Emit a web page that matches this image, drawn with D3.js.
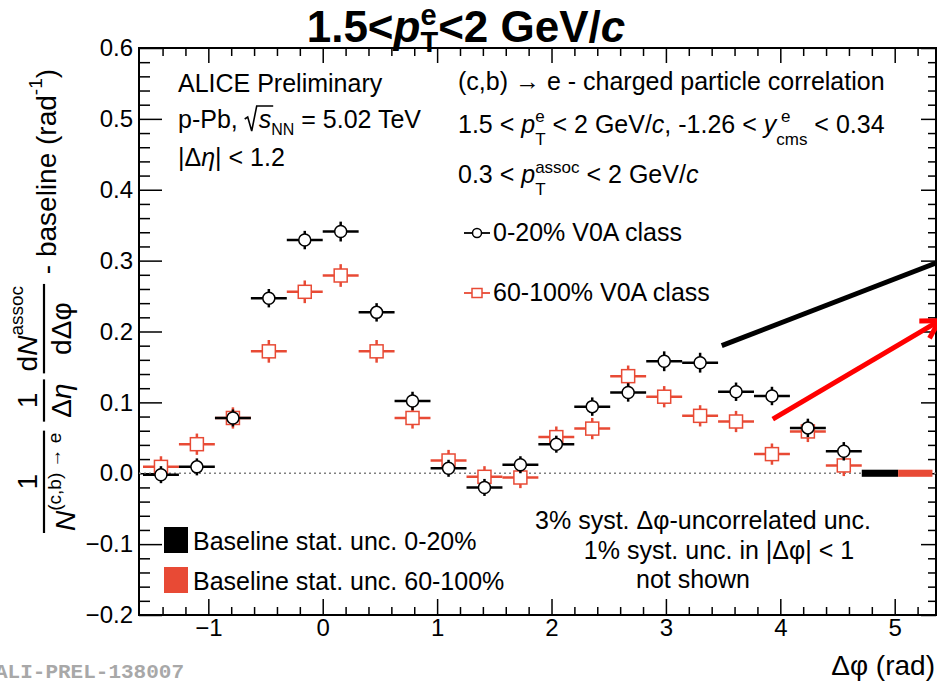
<!DOCTYPE html>
<html>
<head>
<meta charset="utf-8">
<script src="https://cdn.jsdelivr.net/npm/d3@7"></script>
<style>
  body { margin: 0; background: #fff; }
  svg text { font-family: "Liberation Sans", Arial, Helvetica, sans-serif; white-space: pre; }
</style>
</head>
<body>
<svg id="chart" width="937" height="684"></svg>
<script>
// ---- data ----------------------------------------------------------------
// Δφ bin centres (rad) and half bin width
const dphi = [-1.414, -1.100, -0.785, -0.471, -0.157, 0.157, 0.471, 0.785, 1.100, 1.414,
              1.728, 2.042, 2.356, 2.670, 2.985, 3.299, 3.613, 3.927, 4.241, 4.555];
const binHalfWidth = 0.157;

// 0-20% V0A class
const central = [-0.002, 0.009, 0.078, 0.247, 0.329, 0.341, 0.227, 0.102, 0.007, -0.020,
                 0.012, 0.041, 0.094, 0.114, 0.158, 0.156, 0.115, 0.109, 0.064, 0.031];
const centralErr = [0.012, 0.012, 0.012, 0.013, 0.013, 0.014, 0.013, 0.013, 0.012, 0.012,
                    0.012, 0.012, 0.013, 0.013, 0.014, 0.014, 0.013, 0.013, 0.013, 0.013];

// 60-100% V0A class
const peripheral = [0.009, 0.041, 0.078, 0.172, 0.256, 0.279, 0.172, 0.078, 0.018, -0.005,
                    -0.006, 0.051, 0.063, 0.137, 0.108, 0.081, 0.073, 0.027, 0.059, 0.011];
const peripheralErr = [0.015, 0.015, 0.015, 0.016, 0.016, 0.016, 0.016, 0.015, 0.015, 0.015,
                       0.015, 0.015, 0.015, 0.015, 0.015, 0.015, 0.015, 0.015, 0.015, 0.015];

// baseline statistical uncertainty bands
const baselineBands = [
  { cls: "0-20%",   from: 4.712, to: 5.030, half: 0.005 },
  { cls: "60-100%", from: 5.030, to: 5.330, half: 0.005 }
];

// axis ranges and tick labels
const xRange = [-1.606, 5.361];
const yRange = [-0.2, 0.6];
const xMajor = [-1, 0, 1, 2, 3, 4, 5];
const xTickLabels = ["\u22121", "0", "1", "2", "3", "4", "5"];
const yMajor = [-0.2, -0.1, 0.0, 0.1, 0.2, 0.3, 0.4, 0.5, 0.6];
const yTickLabels = ["\u22120.2", "\u22120.1", "0.0", "0.1", "0.2", "0.3", "0.4", "0.5", "0.6"];

// annotation arrows in data coordinates
const arrows = [
  { from: [3.488, 0.180], to: [5.40, 0.299], color: "#000000", head: false },
  { from: [3.934, 0.0763], to: [5.39, 0.2151], color: "#ff0000", head: true }
];

// ---- setup ---------------------------------------------------------------
const RED = "#e84a35";
const svg = d3.select("#chart");
const X0 = 139, X1 = 936, Y0 = 48, Y1 = 615;
const x = d3.scaleLinear().domain(xRange).range([X0, X1]);
const y = d3.scaleLinear().domain(yRange).range([Y1, Y0]);

// rich text: a run of pieces (sub/superscripts, italics), optionally stacked
function rich(parent, x0, y0, pieces, anchor) {
  const g = parent.append("g");
  let cx = 0, lastStart = 0;
  for (const p of pieces) {
    if (p.gap !== undefined) { cx += p.gap; continue; }
    const start = p.stack ? lastStart : cx;
    const t = g.append("text")
      .attr("x", start).attr("y", p.dy || 0)
      .attr("font-size", p.size).attr("fill", p.fill || "#000")
      .text(p.t);
    if (p.it) t.attr("font-style", "italic");
    if (p.bold) t.attr("font-weight", "bold");
    const w = t.node().getComputedTextLength();
    p._x = start; p._w = w;
    lastStart = start;
    cx = Math.max(cx, start + w);
  }
  const shift = anchor === "middle" ? -cx / 2 : anchor === "end" ? -cx : 0;
  g.attr("transform", `translate(${x0 + shift},${y0})`);
  return { g, width: cx, x: x0 + shift };
}

// ---- frame & axes --------------------------------------------------------
const tickStyle = g => {
  g.select(".domain").remove();
  g.selectAll(".tick line").attr("stroke", "#000").attr("stroke-width", 1.5);
  g.selectAll("text").attr("font-size", 24).attr("fill", "#000");
};

const xMinor = d3.range(-16, 54, 2).map(d => d / 10)
  .filter(d => Math.abs(d - Math.round(d)) > 1e-6 && d > xRange[0] + 0.02);
const yMinor = d3.range(-20, 61, 2).map(d => d / 100)
  .filter(d => Math.abs(d * 10 - Math.round(d * 10)) > 1e-6);

// bottom
svg.append("g").attr("transform", `translate(0,${Y1})`)
  .call(d3.axisBottom(x).tickValues(xMinor).tickSize(-8).tickFormat("")).call(tickStyle);
svg.append("g").attr("transform", `translate(0,${Y1})`)
  .call(d3.axisBottom(x).tickValues(xMajor).tickSize(-16).tickPadding(4)
    .tickFormat((d, i) => xTickLabels[i])).call(tickStyle);
// top
svg.append("g").attr("transform", `translate(0,${Y0})`)
  .call(d3.axisTop(x).tickValues(xMinor).tickSize(-8).tickFormat("")).call(tickStyle);
svg.append("g").attr("transform", `translate(0,${Y0})`)
  .call(d3.axisTop(x).tickValues(xMajor).tickSize(-15).tickFormat("")).call(tickStyle);
// left
svg.append("g").attr("transform", `translate(${X0},0)`)
  .call(d3.axisLeft(y).tickValues(yMinor).tickSize(-11).tickFormat("")).call(tickStyle);
svg.append("g").attr("transform", `translate(${X0},0)`)
  .call(d3.axisLeft(y).tickValues(yMajor).tickSize(-23).tickPadding(6)
    .tickFormat((d, i) => yTickLabels[i])).call(tickStyle);
// right
svg.append("g").attr("transform", `translate(${X1},0)`)
  .call(d3.axisRight(y).tickValues(yMinor).tickSize(-8).tickFormat("")).call(tickStyle);
svg.append("g").attr("transform", `translate(${X1},0)`)
  .call(d3.axisRight(y).tickValues(yMajor).tickSize(-15).tickFormat("")).call(tickStyle);

svg.append("rect").attr("x", X0).attr("y", Y0).attr("width", X1 - X0).attr("height", Y1 - Y0)
  .attr("fill", "none").attr("stroke", "#000").attr("stroke-width", 2);

// zero line
svg.append("line").attr("x1", X0).attr("x2", X1).attr("y1", y(0)).attr("y2", y(0))
  .attr("stroke", "#808080").attr("stroke-width", 1.6).attr("stroke-dasharray", "2,3");

// baseline uncertainty bands
svg.selectAll("rect.band").data(baselineBands).join("rect").attr("class", "band")
  .attr("x", d => x(d.from)).attr("width", d => x(d.to) - x(d.from))
  .attr("y", d => y(d.half)).attr("height", d => y(-d.half) - y(d.half))
  .attr("fill", (d, i) => i === 0 ? "#000" : RED);

// ---- data points ---------------------------------------------------------
function drawSeries(vals, errs, color, shape) {
  const pts = dphi.map((d, i) => ({ x: d, v: vals[i], e: errs[i] }));
  const g = svg.append("g");
  g.selectAll("line.h").data(pts).join("line")
    .attr("x1", d => x(d.x - binHalfWidth)).attr("x2", d => x(d.x + binHalfWidth))
    .attr("y1", d => y(d.v)).attr("y2", d => y(d.v))
    .attr("stroke", color).attr("stroke-width", 2.5);
  g.selectAll("line.v").data(pts).join("line")
    .attr("x1", d => x(d.x)).attr("x2", d => x(d.x))
    .attr("y1", d => y(d.v - d.e)).attr("y2", d => y(d.v + d.e))
    .attr("stroke", color).attr("stroke-width", 2.5);
  if (shape === "circle") {
    g.selectAll("circle").data(pts).join("circle")
      .attr("cx", d => x(d.x)).attr("cy", d => y(d.v)).attr("r", 6)
      .attr("fill", "#fff").attr("stroke", color).attr("stroke-width", 1.5);
  } else {
    g.selectAll("rect").data(pts).join("rect")
      .attr("x", d => x(d.x) - 6.5).attr("y", d => y(d.v) - 6.5)
      .attr("width", 13).attr("height", 13)
      .attr("fill", "#fff").attr("stroke", color).attr("stroke-width", 1.5);
  }
}
drawSeries(peripheral, peripheralErr, RED, "square");
drawSeries(central, centralErr, "#000", "circle");

// ---- arrows --------------------------------------------------------------
arrows.forEach(a => {
  const x1 = x(a.from[0]), y1 = y(a.from[1]), x2 = x(a.to[0]), y2 = y(a.to[1]);
  svg.append("line").attr("x1", x1).attr("y1", y1).attr("x2", x2).attr("y2", y2)
    .attr("stroke", a.color).attr("stroke-width", 5);
  if (a.head) {
    const ang = Math.atan2(y1 - y2, x1 - x2), L = 20;
    [Math.PI / 6, -Math.PI / 6].forEach(da => {
      svg.append("line").attr("x1", x2).attr("y1", y2)
        .attr("x2", x2 + L * Math.cos(ang + da)).attr("y2", y2 + L * Math.sin(ang + da))
        .attr("stroke", a.color).attr("stroke-width", 5);
    });
  }
});

// ---- title ---------------------------------------------------------------
rich(svg, 466, 42, [
  { t: "1.5<", size: 44, bold: true },
  { t: "p", size: 44, bold: true, it: true },
  { t: "T", size: 29, bold: true, dy: 10 },
  { t: "e", size: 29, bold: true, dy: -17, stack: true },
  { t: "<2 GeV/", size: 44, bold: true },
  { t: "c", size: 44, bold: true, it: true }
], "middle");

// ---- text block, top left ------------------------------------------------
rich(svg, 178, 92, [{ t: "ALICE Preliminary", size: 25 }]);
{
  const r1 = rich(svg, 178, 128, [{ t: "p-Pb, ", size: 25 }]);
  const sx = 178 + r1.width;
  const b = 128;
  const r2 = rich(svg, sx + 14, b, [
    { t: "s", size: 25, it: true },
    { t: "NN", size: 16, dy: 7 },
    { t: " = 5.02 TeV", size: 25 }
  ]);
  const sw = r2.g.select("text").node().getComputedTextLength();
  // radical sign over s
  svg.append("path")
    .attr("d", `M${sx},${b - 9} L${sx + 3},${b - 11} L${sx + 7},${b + 3} L${sx + 12},${b - 22} L${sx + 14 + sw + 2},${b - 22}`)
    .attr("fill", "none").attr("stroke", "#000").attr("stroke-width", 1.6);
}
rich(svg, 178, 166, [
  { t: "|\u0394", size: 25 },
  { t: "\u03B7", size: 25, it: true },
  { t: "| < 1.2", size: 25 }
]);

// ---- text block, top right -----------------------------------------------
rich(svg, 458, 90, [{ t: "(c,b) \u2192 e - charged particle correlation", size: 25 }]);
rich(svg, 458, 133, [
  { t: "1.5 < ", size: 25 },
  { t: "p", size: 25, it: true },
  { t: "T", size: 17, dy: 12 },
  { t: "e", size: 17, dy: -11, stack: true },
  { t: " < 2 GeV/", size: 25 },
  { t: "c", size: 25, it: true },
  { t: ", -1.26 < ", size: 25 },
  { t: "y", size: 25, it: true },
  { t: "cms", size: 17, dy: 12 },
  { t: " e", size: 17, dy: -11, stack: true },
  { t: " < 0.34", size: 25 }
]);
rich(svg, 458, 183, [
  { t: "0.3 < ", size: 25 },
  { t: "p", size: 25, it: true },
  { t: "T", size: 17, dy: 12 },
  { t: "assoc", size: 17, dy: -10, stack: true },
  { t: " < 2 GeV/", size: 25 },
  { t: "c", size: 25, it: true }
]);

// legend for the two multiplicity classes
const legendItems = [
  { label: "0-20% V0A class", color: "#000", shape: "circle", y: 233 },
  { label: "60-100% V0A class", color: RED, shape: "square", y: 293 }
];
legendItems.forEach(it => {
  svg.append("line").attr("x1", 464).attr("x2", 490).attr("y1", it.y).attr("y2", it.y)
    .attr("stroke", it.color).attr("stroke-width", 1.8);
  if (it.shape === "circle") {
    svg.append("circle").attr("cx", 477).attr("cy", it.y).attr("r", 4.5)
      .attr("fill", "#fff").attr("stroke", it.color).attr("stroke-width", 1.5);
  } else {
    svg.append("rect").attr("x", 472).attr("y", it.y - 4.5).attr("width", 10).attr("height", 9)
      .attr("fill", "#fff").attr("stroke", it.color).attr("stroke-width", 1.5);
  }
  rich(svg, 493, it.y + 8, [{ t: it.label, size: 25 }]);
});

// ---- baseline legend, bottom left ----------------------------------------
const bandLegend = [
  { label: "Baseline stat. unc. 0-20%", color: "#000", y: 527 },
  { label: "Baseline stat. unc. 60-100%", color: RED, y: 567 }
];
bandLegend.forEach(it => {
  svg.append("rect").attr("x", 164).attr("y", it.y).attr("width", 24).attr("height", 26)
    .attr("fill", it.color);
  rich(svg, 193, it.y + 23, [{ t: it.label, size: 25 }]);
});

// ---- systematic note, bottom right ---------------------------------------
rich(svg, 703, 529, [{ t: "3% syst. \u0394\u03C6-uncorrelated unc.", size: 25 }], "middle");
rich(svg, 719, 559, [{ t: "1% syst. unc. in |\u0394\u03C6| < 1", size: 25 }], "middle");
rich(svg, 693, 588, [{ t: "not shown", size: 25 }], "middle");

// ---- x axis title --------------------------------------------------------
rich(svg, 935, 675, [{ t: "\u0394\u03C6 (rad)", size: 28 }], "end");

// ---- y axis title (rotated) ----------------------------------------------
{
  const yt = svg.append("g").attr("transform", "rotate(-90)");
  const NUM = 37, DEN = 75, BAR = 44;
  function frac(u, num, den, pad) {
    const n = rich(yt, 0, NUM, num);
    const d = rich(yt, 0, DEN, den);
    const W = Math.max(n.width, d.width) + 2 * pad;
    n.g.attr("transform", `translate(${u + (W - n.width) / 2},${NUM})`);
    d.g.attr("transform", `translate(${u + (W - d.width) / 2},${DEN})`);
    yt.append("line").attr("x1", u).attr("x2", u + W).attr("y1", BAR).attr("y2", BAR)
      .attr("stroke", "#000").attr("stroke-width", 2.2);
    return W;
  }
  let u = -533;
  u += frac(u, [{ t: "1", size: 28 }],
    [{ t: "N", size: 28, it: true }, { t: "(c,b) \u2192 e", size: 19, dy: -14 }], 2) + 9;
  u += frac(u, [{ t: "1", size: 28 }],
    [{ t: "\u0394", size: 28, dy: -4 }, { t: "\u03B7", size: 28, it: true, dy: -4 }], 4) + 6;
  u += frac(u, [{ t: "d", size: 28 }, { t: "N", size: 28, it: true }, { t: "assoc", size: 19, dy: -14 }],
    [{ t: "d\u0394\u03C6", size: 28, dy: -4 }], 2) + 2;
  rich(yt, u, 56, [
    { t: " - baseline (rad", size: 28 },
    { t: "-1", size: 19, dy: -14 },
    { t: ")", size: 28 }
  ]);
}

// ---- watermark -----------------------------------------------------------
svg.append("text").attr("x", -5).attr("y", 678)
  .style("font-family", "'Liberation Mono', 'Courier New', monospace")
  .attr("font-weight", "bold").attr("font-size", 21).attr("fill", "#a8a8a8")
  .text("ALI-PREL-138007");
</script>
</body>
</html>
